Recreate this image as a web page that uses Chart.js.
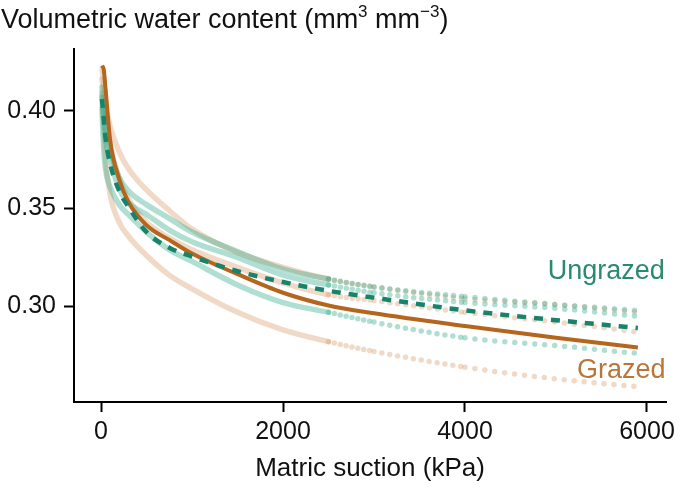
<!DOCTYPE html>
<html>
<head>
<meta charset="utf-8">
<script src="https://cdn.jsdelivr.net/npm/chart.js@4.4.0/dist/chart.umd.min.js"></script>
<style>
    html, body { margin: 0; padding: 0; background: #fff; }
    #wrap { width: 685px; height: 489px; }
</style>
</head>
<body>
<div id="wrap"><canvas id="chart"></canvas></div>
<script>
// Matric suction (kPa) where the curves are read
const suction = [10, 30, 50, 100, 200, 300, 500, 750, 1000, 1500, 2000, 2500, 3000, 4000, 5000, 5900];

// Means
const grazedMean   = [0.423, 0.421, 0.411, 0.385, 0.365, 0.3535, 0.3415, 0.334, 0.327, 0.3165, 0.307, 0.3005, 0.2965, 0.290, 0.284, 0.279];
const ungrazedMean = [0.406, 0.396, 0.386, 0.373, 0.359, 0.351, 0.338, 0.330, 0.3255, 0.318, 0.3125, 0.308, 0.3045, 0.298, 0.293, 0.289];

// Individual curves (faint)
const ungrazed1 = [0.412, 0.400, 0.391, 0.380, 0.366, 0.359, 0.352, 0.345, 0.338, 0.328, 0.319, 0.314, 0.310, 0.305, 0.301, 0.298];
const ungrazed2 = [0.407, 0.395, 0.385, 0.375, 0.360, 0.353, 0.347, 0.339, 0.333, 0.325, 0.316, 0.311, 0.307, 0.302, 0.299, 0.295];
const ungrazed3 = [0.401, 0.380, 0.370, 0.361, 0.352, 0.347, 0.338, 0.329, 0.323, 0.311, 0.302, 0.297, 0.292, 0.284, 0.280, 0.276];
const grazed1   = [0.421, 0.414, 0.404, 0.392, 0.379, 0.3705, 0.3595, 0.349, 0.3395, 0.3275, 0.320, 0.314, 0.310, 0.304, 0.301, 0.297];
const grazed2   = [0.416, 0.409, 0.400, 0.383, 0.365, 0.355, 0.343, 0.335, 0.329, 0.320, 0.312, 0.306, 0.303, 0.297, 0.292, 0.287];
const grazed3   = [0.409, 0.391, 0.375, 0.357, 0.343, 0.336, 0.326, 0.316, 0.309, 0.297, 0.288, 0.282, 0.277, 0.269, 0.263, 0.259];

const xTicks = [0, 2000, 4000, 6000];
const yTicks = [0.30, 0.35, 0.40];

const teal = '#17836a';
const brown = '#b5661e';
const tealFaint = 'rgba(45, 168, 138, 0.38)';
const tanFaint = 'rgba(210, 145, 90, 0.34)';
const fontFamily = '"Liberation Sans", Arial, sans-serif';

function toPoints(vals) {
    return suction.map((s, i) => ({ x: s, y: vals[i] }));
}

// faint curves break up into dots at high suction, sparser further right
const dotted = {
    borderDash: ctx => {
        const s = ctx.p0.parsed.x;
        if (s >= 4000) return [0, 10];
        if (s >= 3000) return [0, 8];
        if (s >= 2500) return [0, 6];
        return undefined;
    }
};

function faint(vals, color) {
    return {
        data: toPoints(vals),
        borderColor: color,
        borderWidth: 5.5,
        borderCapStyle: 'round',
        pointRadius: 0,
        cubicInterpolationMode: 'monotone',
        segment: dotted
    };
}

const textPlugin = {
    id: 'texts',
    afterDraw(chart) {
        const { ctx, scales: { x, y } } = chart;
        ctx.save();
        ctx.fillStyle = '#111';
        ctx.textBaseline = 'alphabetic';

        // y axis title with superscripts
        let px = 1;
        const base = 28;
        const big = '27px ' + fontFamily;
        const small = '17px ' + fontFamily;
        const parts = [
            ['Volumetric water content (mm', big, 0],
            ['3', small, -11],
            [' mm', big, 0],
            ['\u22123', small, -11],
            [')', big, 0]
        ];
        parts.forEach(p => {
            ctx.font = p[1];
            ctx.fillText(p[0], px, base + p[2]);
            px += ctx.measureText(p[0]).width;
        });

        // group labels
        ctx.font = '27px ' + fontFamily;
        ctx.textBaseline = 'middle';
        ctx.fillStyle = '#2a8a70';
        ctx.fillText('Ungrazed', x.getPixelForValue(4910), y.getPixelForValue(0.3177));
        ctx.fillStyle = '#b8763c';
        ctx.fillText('Grazed', x.getPixelForValue(5230), y.getPixelForValue(0.2674));
        ctx.restore();
    }
};

const tickFont = { family: fontFamily, size: 25 };

new Chart(document.getElementById('chart'), {
    type: 'line',
    data: {
        datasets: [
            {
                data: toPoints(ungrazedMean),
                borderColor: teal,
                borderWidth: 4.5,
                borderDash: [9, 8],
                pointRadius: 0,
                cubicInterpolationMode: 'monotone'
            },
            {
                data: toPoints(grazedMean),
                borderColor: brown,
                borderWidth: 4,
                pointRadius: 0,
                cubicInterpolationMode: 'monotone'
            },
            faint(ungrazed1, tealFaint),
            faint(ungrazed2, tealFaint),
            faint(ungrazed3, tealFaint),
            faint(grazed1, tanFaint),
            faint(grazed2, tanFaint),
            faint(grazed3, tanFaint)
        ]
    },
    options: {
        responsive: true,
        maintainAspectRatio: false,
        animation: false,
        layout: { padding: { top: 49, right: 19, left: 0, bottom: 0 } },
        plugins: {
            legend: { display: false },
            tooltip: { enabled: false }
        },
        scales: {
            x: {
                type: 'linear',
                min: -297,
                max: 6209,
                afterBuildTicks: scale => { scale.ticks = xTicks.map(v => ({ value: v })); },
                afterFit: scale => { scale.height = 87; },
                grid: { drawOnChartArea: false, drawTicks: true, tickLength: 10, tickWidth: 2, tickColor: '#000' },
                border: { display: true, color: '#000', width: 2 },
                ticks: { color: '#111', font: tickFont, padding: 5, maxRotation: 0, callback: v => String(v) },
                title: {
                    display: true,
                    text: 'Matric suction (kPa)',
                    color: '#111',
                    font: { family: fontFamily, size: 26 },
                    padding: { top: 0, bottom: 5 }
                }
            },
            y: {
                min: 0.2512,
                max: 0.4315,
                afterBuildTicks: scale => { scale.ticks = yTicks.map(v => ({ value: v })); },
                afterFit: scale => { scale.width = 74; },
                grid: { drawOnChartArea: false, drawTicks: true, tickLength: 10, tickWidth: 2, tickColor: '#000' },
                border: { display: true, color: '#000', width: 2 },
                ticks: { color: '#111', font: tickFont, padding: 8, callback: v => v.toFixed(2) }
            }
        }
    },
    plugins: [textPlugin]
});
</script>
</body>
</html>
